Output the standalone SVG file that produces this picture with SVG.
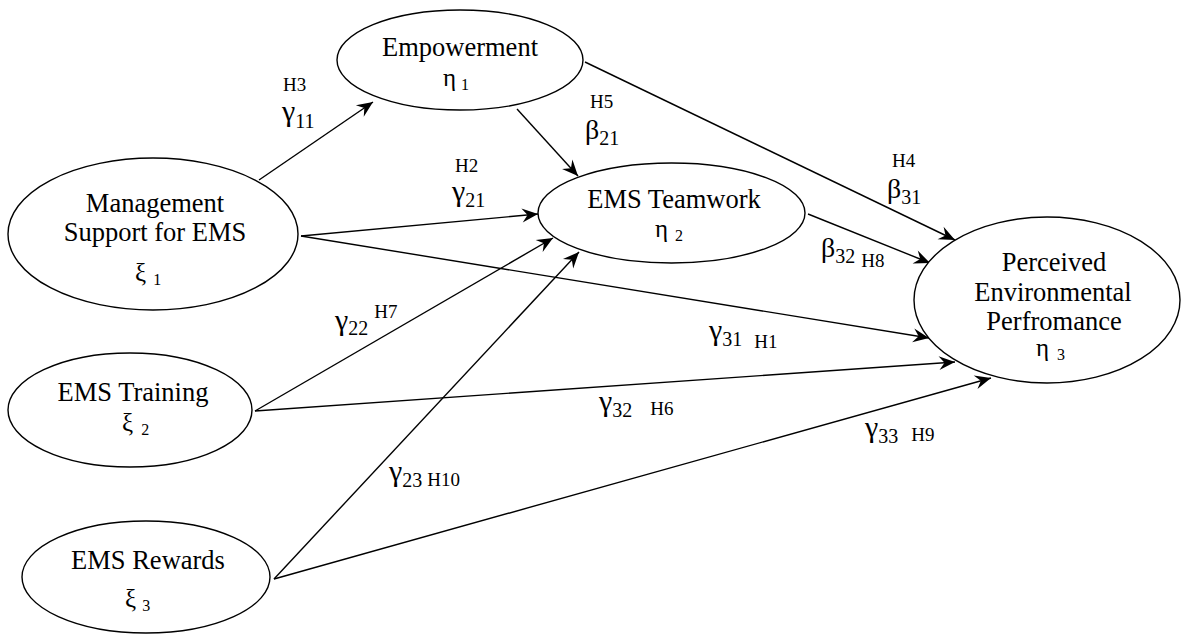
<svg xmlns="http://www.w3.org/2000/svg" width="1183" height="635" viewBox="0 0 1183 635">
<defs>
<style>
.node ellipse{fill:#fff;stroke:#000;stroke-width:1.4}
text{fill:#000}
.lbl{font-size:26.5px;text-anchor:middle}
.gr{font-size:25px}
.gsub{font-size:16px}
.conn line{stroke:#000;stroke-width:1.4;fill:none;marker-end:url(#arr)}
.h{font-size:19px}
.sub{font-size:20px}
.g{font-size:30px}
.b{font-size:28px}
</style>
<marker id="arr" markerUnits="userSpaceOnUse" markerWidth="20" markerHeight="16" viewBox="-17 -8 18 16" refX="0" refY="0" orient="auto">
<path d="M0,0 L-16,-7 L-10.5,0 L-16,7 Z" fill="#000"/>
</marker>
</defs>
<rect width="1183" height="635" fill="#fff"/>
<g class="conn" id="connectors">
<line x1="259" y1="180" x2="373" y2="102"/>
<line x1="301" y1="236" x2="538" y2="214"/>
<line x1="301" y1="236" x2="929" y2="338"/>
<line x1="517" y1="109" x2="578" y2="176"/>
<line x1="585" y1="62" x2="955" y2="240"/>
<line x1="808" y1="214" x2="930" y2="263"/>
<line x1="255" y1="411" x2="553" y2="238"/>
<line x1="255" y1="411" x2="955" y2="362"/>
<line x1="274" y1="579" x2="579" y2="252"/>
<line x1="274" y1="579" x2="991" y2="378"/>
</g>
<g id="labels">
<text font-family="Liberation Serif" class="h" x="283" y="91">H3</text>
<text font-family="Liberation Serif" x="282" y="121"><tspan class="g">γ</tspan><tspan class="sub" dy="7">11</tspan></text>
<text font-family="Liberation Serif" class="h" x="455" y="172">H2</text>
<text font-family="Liberation Serif" x="452" y="201"><tspan class="g">γ</tspan><tspan class="sub" dy="6">21</tspan></text>
<text font-family="Liberation Serif" class="h" x="590" y="108">H5</text>
<text font-family="Liberation Serif" x="585" y="139"><tspan class="b">β</tspan><tspan class="sub" dy="6">21</tspan></text>
<text font-family="Liberation Serif" class="h" x="892" y="167">H4</text>
<text font-family="Liberation Serif" x="887" y="198"><tspan class="b">β</tspan><tspan class="sub" dy="6">31</tspan></text>
<text font-family="Liberation Serif" x="821" y="257"><tspan class="b">β</tspan><tspan class="sub" dy="6">32</tspan><tspan class="h" dx="6" dy="4">H8</tspan></text>
<text font-family="Liberation Serif" x="709" y="340"><tspan class="g">γ</tspan><tspan class="sub" dy="6">31</tspan><tspan class="h" dx="12" dy="2">H1</tspan></text>
<text font-family="Liberation Serif" x="599" y="411"><tspan class="g">γ</tspan><tspan class="sub" dy="6">32</tspan><tspan class="h" dx="18" dy="-2">H6</tspan></text>
<text font-family="Liberation Serif" x="865" y="437"><tspan class="g">γ</tspan><tspan class="sub" dy="6">33</tspan><tspan class="h" dx="13" dy="-2">H9</tspan></text>
<text font-family="Liberation Serif" x="335" y="330"><tspan class="g">γ</tspan><tspan class="sub" dy="5">22</tspan><tspan class="h" dx="6" dy="-17">H7</tspan></text>
<text font-family="Liberation Serif" x="389" y="481"><tspan class="g">γ</tspan><tspan class="sub" dy="6">23</tspan><tspan class="h" dx="5" dy="-1">H10</tspan></text>
</g>
<g class="node" id="empowerment">
<ellipse cx="460" cy="60" rx="123" ry="50"/>
<text font-family="Liberation Serif" class="lbl" x="460" y="56">Empowerment</text>
<text font-family="Liberation Serif" x="443" y="86"><tspan class="gr">η</tspan><tspan class="gsub" dx="5" dy="4">1</tspan></text>
</g>
<g class="node" id="management">
<ellipse cx="153" cy="234" rx="145" ry="76"/>
<text font-family="Liberation Serif" class="lbl" x="155" y="212">Management</text>
<text font-family="Liberation Serif" class="lbl" x="155" y="241">Support for EMS</text>
<text font-family="Liberation Serif" x="135" y="281"><tspan class="gr">ξ</tspan><tspan class="gsub" dx="7" dy="4">1</tspan></text>
</g>
<g class="node" id="teamwork">
<ellipse cx="671.5" cy="213" rx="133.5" ry="50"/>
<text font-family="Liberation Serif" class="lbl" x="674" y="208">EMS Teamwork</text>
<text font-family="Liberation Serif" x="655" y="237"><tspan class="gr">η</tspan><tspan class="gsub" dx="7" dy="4">2</tspan></text>
</g>
<g class="node" id="training">
<ellipse cx="130" cy="410" rx="122" ry="57"/>
<text font-family="Liberation Serif" class="lbl" x="133" y="401">EMS Training</text>
<text font-family="Liberation Serif" x="122" y="431"><tspan class="gr">ξ</tspan><tspan class="gsub" dx="8" dy="4">2</tspan></text>
</g>
<g class="node" id="rewards">
<ellipse cx="146" cy="577" rx="124" ry="56"/>
<text font-family="Liberation Serif" class="lbl" x="148" y="569">EMS Rewards</text>
<text font-family="Liberation Serif" x="125" y="607"><tspan class="gr">ξ</tspan><tspan class="gsub" dx="6" dy="4">3</tspan></text>
</g>
<g class="node" id="perceived">
<ellipse cx="1047" cy="300" rx="133" ry="83"/>
<text font-family="Liberation Serif" class="lbl" x="1054" y="271">Perceived</text>
<text font-family="Liberation Serif" class="lbl" x="1053" y="301">Environmental</text>
<text font-family="Liberation Serif" class="lbl" x="1054" y="330">Perfromance</text>
<text font-family="Liberation Serif" x="1036" y="356"><tspan class="gr">η</tspan><tspan class="gsub" dx="8" dy="4">3</tspan></text>
</g>
</svg>
